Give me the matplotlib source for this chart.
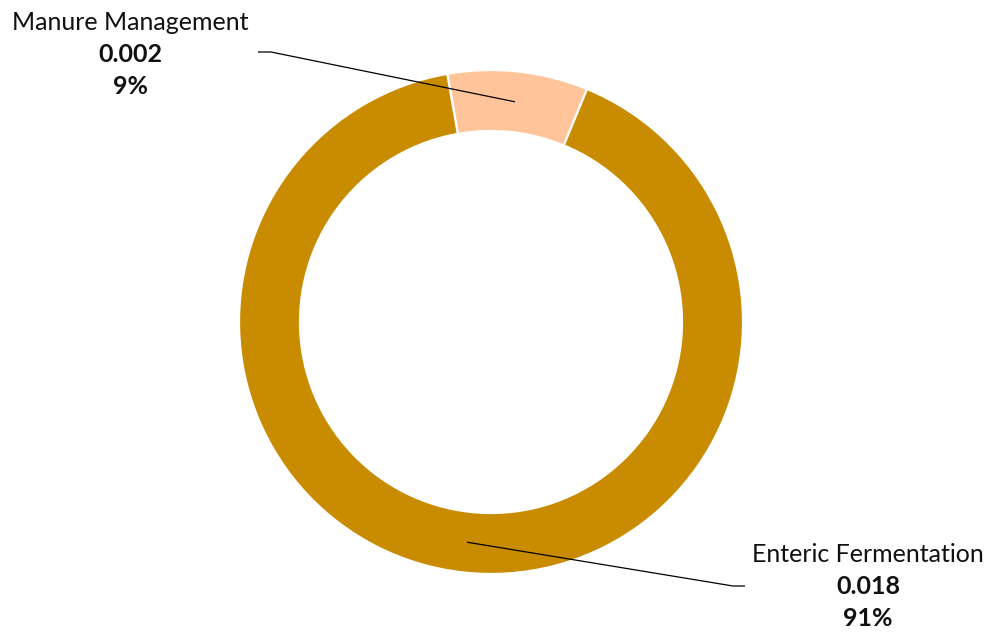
import numpy as np
import matplotlib.pyplot as plt

categories = ["Manure Management", "Enteric Fermentation"]
values = [0.0018, 0.0182]
colors = ["#FFC499", "#C98B00"]

W, H = 990, 639
fig = plt.figure(figsize=(W / 100, H / 100), dpi=100)
ax = fig.add_axes([0, 0, 1, 1])

cx, cy = 491, H - 322
r_out, r_in = 252, 191

wedges, _ = ax.pie(values, colors=colors, startangle=100, counterclock=False,
                   radius=r_out, center=(cx, cy),
                   wedgeprops=dict(width=r_out - r_in, edgecolor="white", linewidth=1.6))

ax.set_xlim(0, W)
ax.set_ylim(0, H)
ax.set_aspect("equal")
ax.axis("off")

total = sum(values)
r_mid = (r_out + r_in) / 2
# label elbow point, line end, and text centre (pixel space, y from top)
layout = [
    dict(elbow=(271, 52), end=(258, 52), text=(130, 22)),
    dict(elbow=(733, 586), end=(745, 586), text=(868, 555)),
]
txt_color = "#111111"
fs = 18
for w, cat, v, lay in zip(wedges, categories, values, layout):
    ang = np.deg2rad((w.theta1 + w.theta2) / 2)
    ax0, ay0 = cx + r_mid * np.cos(ang), cy + r_mid * np.sin(ang)
    ex, ey = lay["elbow"]
    nx, ny = lay["end"]
    ax.plot([ax0, ex, nx], [ay0, H - ey, H - ny], color="black", lw=0.9,
            solid_capstyle="butt")
    tx, ty = lay["text"]
    ax.text(tx, H - ty, cat, ha="center", va="center", fontsize=fs,
            family="Lato", color=txt_color)
    ax.text(tx, H - ty - 32, f"{v:.3f}", ha="center", va="center", fontsize=fs,
            family="Lato", fontweight="bold", color=txt_color)
    ax.text(tx, H - ty - 64, f"{v / total * 100:.0f}%", ha="center", va="center",
            fontsize=fs, family="Lato", fontweight="bold", color=txt_color)

fig.savefig("out.png", dpi=100)
